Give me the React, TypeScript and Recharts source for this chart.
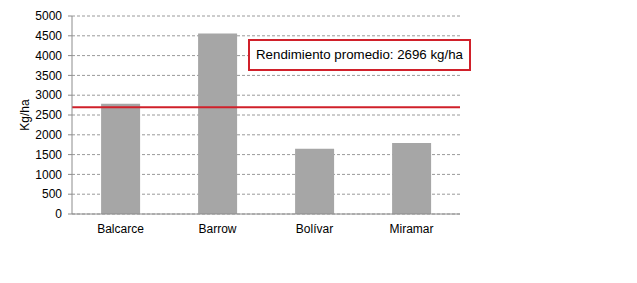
import { BarChart, Bar, XAxis, YAxis, CartesianGrid, ReferenceLine } from 'recharts'

const localidades = ['Balcarce', 'Barrow', 'Bolívar', 'Miramar']
const rendimiento = [2785, 4555, 1650, 1795]
const promedio = 2696
const yTicks = [0, 500, 1000, 1500, 2000, 2500, 3000, 3500, 4000, 4500, 5000]
const limites = [0, 1, 2, 3, 4]

const data = localidades.map((name, i) => ({ name, value: rendimiento[i] }))

const font = '"Liberation Sans", Arial, sans-serif'
const red = '#d0202a'

function YLabel(props: any) {
  const { viewBox } = props
  const x = viewBox.x + 26
  const y = viewBox.y + viewBox.height / 2
  return (
    <text x={x} y={y} transform={`rotate(-90 ${x} ${y})`} textAnchor="middle" dominantBaseline="middle" fontSize={12} fontFamily={font} fill="#000">
      Kg/ha
    </text>
  )
}

export default function App() {
  return (
    <div style={{ position: 'fixed', top: 0, left: 0, width: 637, height: 283, background: '#fff', fontFamily: font }}>
      <BarChart
        width={637}
        height={283}
        data={data}
        margin={{ top: 16, right: 177, left: 0, bottom: 39 }}
        barCategoryGap="30%"
      >
        <CartesianGrid vertical={false} stroke="#9a9a9a" strokeDasharray="3 2" />
        <XAxis
          dataKey="name"
          axisLine={{ stroke: '#8c8c8c' }}
          tickLine={false}
          tickSize={4}
          tickMargin={6}
          tick={{ fill: '#000', fontSize: 12, fontFamily: font }}
        />
        <XAxis
          xAxisId="limites"
          type="number"
          domain={[0, 4]}
          ticks={limites}
          interval={0}
          height={0}
          axisLine={false}
          tickLine={{ stroke: '#8c8c8c' }}
          tickSize={4}
          tick={false}
        />
        <YAxis
          width={72}
          domain={[0, 5000]}
          ticks={yTicks}
          interval={0}
          axisLine={{ stroke: '#8c8c8c' }}
          tickLine={{ stroke: '#8c8c8c' }}
          tickSize={4}
          tickMargin={6}
          tick={{ fill: '#000', fontSize: 12, fontFamily: font }}
          label={<YLabel />}
        />
        <Bar dataKey="value" fill="#a6a6a6" isAnimationActive={false} />
        <ReferenceLine y={promedio} stroke={red} strokeWidth={2} />
      </BarChart>
      <div
        style={{
          position: 'absolute',
          left: 248,
          top: 39,
          width: 219,
          height: 28,
          border: `2px solid ${red}`,
          background: '#fff',
          fontSize: 13.3,
          lineHeight: '28px',
          textAlign: 'center',
          color: '#000',
        }}
      >
        Rendimiento promedio: {promedio} kg/ha
      </div>
    </div>
  )
}
